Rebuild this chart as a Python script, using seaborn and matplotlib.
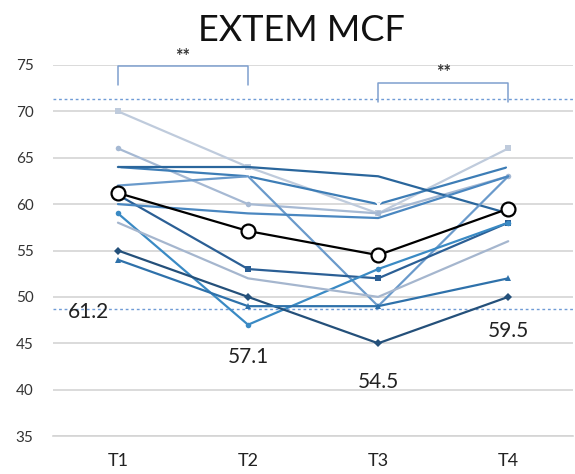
import numpy as np
import pandas as pd
import matplotlib
matplotlib.use("Agg")
import matplotlib.pyplot as plt
import seaborn as sns

times = ["T1", "T2", "T3", "T4"]

# individual patients
subj_a = [70, 64, 59, 66]
subj_b = [66, 60, 59, 63]
subj_c = [64, 63, 60, 64]
subj_d = [64, 64, 63, 59]
subj_e = [62, 63, 49, 63]
subj_f = [61, 53, 52, 58]
subj_k = [60, 59, 58.5, 63]
subj_g = [59, 47, 53, 58]
subj_h = [58, 52, 50, 56]
subj_i = [55, 50, 45, 50]
subj_j = [54, 49, 49, 52]

mean_vals = [61.2, 57.1, 54.5, 59.5]
ref_range = [48.7, 71.3]

subjects = {"A": subj_a, "B": subj_b, "C": subj_c, "D": subj_d, "E": subj_e,
            "F": subj_f, "K": subj_k, "G": subj_g, "H": subj_h, "I": subj_i,
            "J": subj_j}
colors = {"A": "#bfcbdc", "B": "#a6b9d3", "C": "#3d7db6", "D": "#2a669c",
          "E": "#6a9acb", "F": "#2b5f95", "K": "#4a87c0", "G": "#3a8ac4",
          "H": "#a5b6ce", "I": "#24507a", "J": "#2e71aa"}
markers = {"A": "s", "B": "o", "C": "x", "D": "", "E": "", "F": "s",
           "K": "", "G": "o", "H": "", "I": "D", "J": "^"}

df = pd.DataFrame([(s, t, v) for s, vals in subjects.items()
                   for t, v in zip(times, vals)],
                  columns=["subject", "time", "value"])

sns.set_style("white")
plt.rcParams["font.family"] = ["Lato", "DejaVu Sans"]

fig = plt.figure(figsize=(5.75, 4.74), dpi=100)
ax = fig.add_axes([0.092, 0.080, 0.905, 0.783])

for s in subjects:
    d = df[df["subject"] == s]
    sns.lineplot(data=d, x="time", y="value", ax=ax, color=colors[s],
                 marker=markers[s] if markers[s] else None, markersize=4,
                 markeredgewidth=1 if markers[s] == "x" else 0,
                 linewidth=1.6, sort=False, zorder=3)

# mean line
sns.lineplot(x=times, y=mean_vals, ax=ax, color="black", linewidth=1.6,
             marker="o", markersize=10, markerfacecolor="white",
             markeredgecolor="black", markeredgewidth=1.6, sort=False, zorder=5)

# reference range
for r in ref_range:
    ax.axhline(r, color="#6f9bd6", linestyle=(0, (2, 2)), linewidth=1.0, zorder=2)

# significance brackets
br = "#7e9fce"
ax.plot([0, 0, 1, 1], [72.8, 74.9, 74.9, 72.8], color=br, linewidth=1.1,
        clip_on=False, zorder=4)
ax.text(0.5, 75.0, "**", ha="center", va="bottom", fontsize=13,
        fontweight="bold", color="#333333")
ax.plot([2, 2, 3, 3], [71.0, 73.1, 73.1, 71.0], color=br, linewidth=1.1,
        clip_on=False, zorder=4)
ax.text(2.5, 73.3, "**", ha="center", va="bottom", fontsize=13,
        fontweight="bold", color="#333333")

# mean labels
label_x = [-0.23, 0, 0, 0]
label_y = [48.4, 43.5, 40.8, 46.3]
for lx, i, ly, m in zip(label_x, range(4), label_y, mean_vals):
    ax.text(i + lx, ly, f"{m:.1f}", ha="center", va="center", fontsize=15,
            color="#222222", zorder=6)

ax.set_xlim(-0.5, 3.5)
ax.set_ylim(35, 75)
ax.set_yticks(np.arange(35, 76, 5))
ax.grid(axis="y", color="#d4d4d4", linewidth=1.2)
ax.set_axisbelow(True)
for sp in ["left", "right", "top"]:
    ax.spines[sp].set_visible(False)
ax.spines["bottom"].set_color("#d4d4d4")
ax.spines["bottom"].set_linewidth(1.2)
ax.tick_params(axis="y", labelsize=11, length=0, pad=14, labelcolor="#333333")
ax.tick_params(axis="x", labelsize=13, length=0, pad=12, labelcolor="#222222")
ax.set_xlabel("")
ax.set_ylabel("")

fig.text(0.525, 0.935, "EXTEM MCF", ha="center", va="center", fontsize=26,
         color="#111111")

fig.savefig("out.png", dpi=100)
